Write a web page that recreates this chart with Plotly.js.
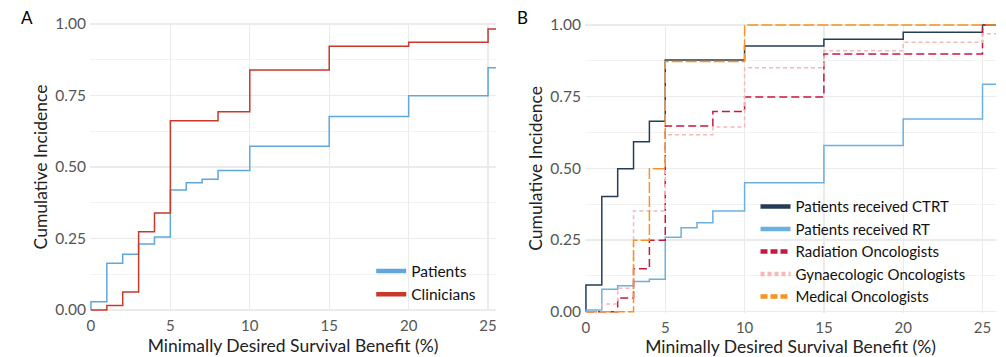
<!DOCTYPE html>
<html><head><meta charset="utf-8">
<script src="https://cdn.plot.ly/plotly-3.0.1.min.js"></script>
<style>body{margin:0;padding:0;background:#fff}#chart{width:1006px;height:357px}</style>
</head><body><div id="chart"></div>
<script>
// Panel A
const xPatients   = [0,0,1,2,3,4,5,6,7,8,10,15,20,25,26];
const yPatients   = [0,0.029,0.163,0.195,0.231,0.255,0.42,0.445,0.457,0.488,0.573,0.677,0.749,0.847,0.847];
const xClinicians = [0,1,2,3,4,5,8,10,15,20,25,26];
const yClinicians = [0,0.016,0.063,0.274,0.339,0.662,0.693,0.839,0.922,0.936,0.983,0.983];
// Panel B
const xCTRT = [0,0,1,2,3,4,5,10,15,20,25,26];
const yCTRT = [0,0.093,0.402,0.499,0.593,0.664,0.878,0.927,0.95,0.975,1,1];
const xRT   = [0,0,1,2,3,4,5,6,7,8,10,15,20,25,26];
const yRT   = [0,0.006,0.078,0.09,0.105,0.113,0.26,0.293,0.31,0.351,0.45,0.58,0.672,0.793,0.793];
const xRad  = [0,2,3,4,5,8,10,15,25,26];
const yRad  = [0,0.048,0.15,0.249,0.648,0.698,0.749,0.899,1,1];
const xGyn  = [0,1,2,3,5,8,10,15,20,25,26];
const yGyn  = [0,0.027,0.082,0.351,0.617,0.644,0.851,0.91,0.94,0.97,0.97];
const xMed  = [0,3,4,5,10,26];
const yMed  = [0,0.249,0.499,0.873,1,1];

const xTicks = [0,5,10,15,20,25];
const yTicks = [0,0.25,0.5,0.75,1];
const yTickText = ['0.00','0.25','0.50','0.75','1.00'];

const FONT = 'Lato, "Open Sans", sans-serif';

function step(x,y,name,color,dash,xa,ya,width){
  return {x:x,y:y,name:name,type:'scatter',mode:'lines',line:{shape:'hv',color:color,width:width||1.5,dash:dash||'solid'},
    xaxis:xa,yaxis:ya,showlegend:false,hoverinfo:'skip'};
}
function leg(name,color,dash,xa,ya,lg){
  return {x:[null],y:[null],name:name,type:'scatter',mode:'lines',line:{color:color,width:4.5,dash:dash||'solid'},
    xaxis:xa,yaxis:ya,showlegend:true,legend:lg};
}

const cBlueA='#5fa7dd', cRedA='#c9392b';
const cNavy='#233c58', cBlueB='#6cb0e2', cCrim='#c8173f', cPink='#f6b8b8', cOrange='#f7931e';

const traces = [
  step(xPatients,yPatients,'Patients',cBlueA,'solid','x','y'),
  step(xClinicians,yClinicians,'Clinicians',cRedA,'solid','x','y'),
  leg('Patients',cBlueA,'solid','x','y','legend'),
  leg('Clinicians',cRedA,'solid','x','y','legend'),
  step(xCTRT,yCTRT,'Patients received CTRT',cNavy,'solid','x2','y2'),
  step(xRT,yRT,'Patients received RT',cBlueB,'solid','x2','y2'),
  step(xRad,yRad,'Radiation Oncologists',cCrim,'8px,4px','x2','y2'),
  step(xGyn,yGyn,'Gynaecologic Oncologists',cPink,'4px,3px','x2','y2'),
  step(xMed,yMed,'Medical Oncologists',cOrange,'11px,3px','x2','y2'),
  leg('Patients received CTRT',cNavy,'solid','x2','y2','legend2'),
  leg('Patients received RT',cBlueB,'solid','x2','y2','legend2'),
  leg('Radiation Oncologists',cCrim,'7px,3px','x2','y2','legend2'),
  leg('Gynaecologic Oncologists',cPink,'4px,3px','x2','y2','legend2'),
  leg('Medical Oncologists',cOrange,'7px,3px','x2','y2','legend2')
];

const axX = (dom,end,anchor)=>({domain:dom,range:[-0.06,end],anchor:anchor,tickvals:xTicks,ticktext:xTicks.map(String),
  showgrid:true,gridcolor:'#ebebeb',gridwidth:1.3,zeroline:false,showline:false,ticks:'',ticklabelstandoff:4,
  tickfont:{family:FONT,size:15,color:'#555'},
  title:{text:'Minimally Desired Survival Benefit (%)',font:{family:FONT,size:17.5,color:'#222'},standoff:6}});
const axY = (dom,anchor)=>({domain:dom,range:[-0.005,1.005],anchor:anchor,tickvals:yTicks,ticktext:yTickText,
  showgrid:true,gridcolor:'#ebebeb',gridwidth:1.3,zeroline:false,showline:false,ticks:'',ticklabelstandoff:3,
  minor:{dtick:0.125,tick0:0,showgrid:true,gridcolor:'#f2f2f2',gridwidth:1},
  tickfont:{family:FONT,size:15.5,color:'#555'},
  title:{text:'Cumulative Incidence',font:{family:FONT,size:17.5,color:'#222'},standoff:3}});

const layout = {
  width:1006,height:357,margin:{l:0,r:0,t:0,b:0},paper_bgcolor:'#fff',plot_bgcolor:'#fff',
  font:{family:FONT},
  xaxis:axX([90/1006,496/1006],25.5,'y'),
  yaxis:axY([0.1277,0.9367],'x'),
  xaxis2:axX([585/1006,996/1006],25.85,'y2'),
  yaxis2:axY([0.1230,0.9339],'x2'),
  legend:{x:0.369,y:0.287,xanchor:'left',yanchor:'top',bgcolor:'rgba(0,0,0,0)',
    font:{family:FONT,size:15.5,color:'#111'},itemwidth:30,tracegroupgap:0},
  legend2:{x:0.751,y:0.467,xanchor:'left',yanchor:'top',bgcolor:'rgba(0,0,0,0)',
    font:{family:FONT,size:15,color:'#111'},itemwidth:30,tracegroupgap:0},
  annotations:[
    {text:'A',x:0.027,y:0.95,xref:'paper',yref:'paper',showarrow:false,xanchor:'center',yanchor:'middle',font:{family:FONT,size:17,color:'#000'}},
    {text:'B',x:0.519,y:0.95,xref:'paper',yref:'paper',showarrow:false,xanchor:'center',yanchor:'middle',font:{family:FONT,size:17,color:'#000'}}
  ]
};
Plotly.newPlot('chart',traces,layout,{displayModeBar:false,staticPlot:true});
</script></body></html>
